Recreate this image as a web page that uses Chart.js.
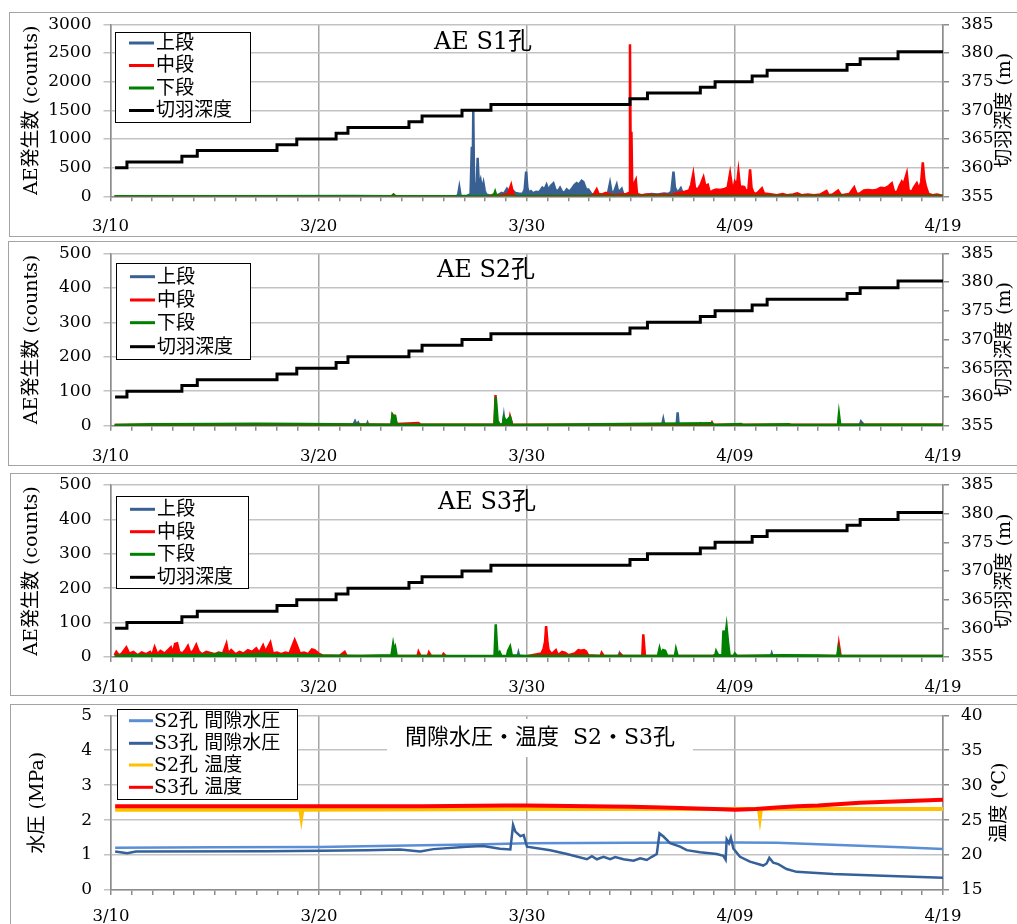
<!DOCTYPE html>
<html>
<head>
<meta charset="utf-8">
<script src="https://cdn.jsdelivr.net/npm/chart.js@4/dist/chart.umd.min.js"></script>
<style>
  html, body { margin: 0; padding: 0; background: #fff; overflow: hidden; }
  #page { position: relative; width: 1017px; height: 924px; }
  .frame { position: absolute; border: 1px solid #a3a3a3; box-sizing: border-box; background: #fff; }
  canvas { position: absolute; }
</style>
</head>
<body>
<div id="page"></div>
<script>
// ---- x axis: days since 3/10 ----
const tickLabels = ['3/10', '3/20', '3/30', '4/09', '4/19'];

// face depth (m), step values: [day, depth]
const faceDepth = [[0.22,360],[0.79,361],[3.43,362],[4.17,363],[8.0,364],[8.95,365],[10.84,366],[11.41,367],[14.34,368],[14.97,369],[16.89,370],[18.28,371],[24.96,372],[25.8,373],[28.34,374],[29.05,375],[30.83,376],[31.55,377],[35.39,378],[36.02,379],[37.84,380.2],[40.0,380.2]];

// AE counts, hole S1
const s1Upper = [[0.2,0],[3.0,3],[6.0,0],[11.7,4],[13.6,0],[16.6,0],[16.7,20],[16.76,150],[16.82,10],[17.1,5],[17.3,40],[17.36,865],[17.4,300],[17.43,1500],[17.47,200],[17.52,60],[17.6,250],[17.64,673],[17.7,180],[17.78,280],[17.85,120],[17.92,230],[17.98,100],[18.05,30],[18.3,5],[18.6,20],[18.8,60],[18.9,40],[19.05,130],[19.15,80],[19.3,110],[19.45,60],[19.6,50],[19.8,40],[19.9,120],[19.97,430],[20.03,150],[20.1,60],[20.2,90],[20.3,50],[20.45,80],[20.6,70],[20.75,150],[20.85,120],[20.95,200],[21.05,100],[21.15,180],[21.28,227],[21.38,110],[21.5,90],[21.6,150],[21.7,80],[21.8,60],[21.92,120],[22.05,80],[22.2,150],[22.3,200],[22.4,230],[22.5,200],[22.64,272],[22.72,250],[22.85,120],[22.96,120],[23.1,40],[23.3,20],[23.5,20],[23.7,30],[23.9,50],[24.0,227],[24.08,60],[24.2,80],[24.32,200],[24.4,60],[24.56,130],[24.65,20],[24.8,10],[25.0,5],[25.6,20],[26.0,40],[26.3,30],[26.6,50],[26.8,40],[26.95,80],[27.05,430],[27.12,150],[27.25,60],[27.4,140],[27.5,40],[27.6,10],[28.0,0],[40.0,0]];
const s1Mid = [[0.2,0],[13.5,0],[13.6,30],[13.7,0],[18.2,0],[18.4,30],[18.6,10],[19.1,40],[19.25,197],[19.35,40],[19.5,0],[23.0,10],[23.2,20],[23.36,122],[23.45,40],[23.6,30],[23.8,60],[24.0,30],[24.2,20],[24.5,30],[24.8,40],[24.93,60],[24.96,2650],[25.0,300],[25.03,1127],[25.07,150],[25.24,284],[25.3,40],[25.5,20],[25.8,30],[26.2,20],[26.6,30],[26.9,20],[27.3,60],[27.6,80],[27.8,100],[27.9,200],[28.0,389],[28.08,150],[28.2,110],[28.35,200],[28.49,330],[28.58,180],[28.7,200],[28.8,60],[28.95,100],[29.1,120],[29.3,110],[29.5,130],[29.65,150],[29.77,400],[29.85,200],[29.95,160],[30.0,255],[30.1,200],[30.17,430],[30.25,150],[30.35,170],[30.45,160],[30.55,80],[30.65,120],[30.73,470],[30.8,150],[30.9,60],[31.0,40],[31.15,80],[31.3,140],[31.4,50],[31.6,40],[31.8,30],[32.0,20],[32.3,40],[32.5,20],[32.8,30],[33.0,50],[33.2,20],[33.5,30],[33.8,20],[34.1,30],[34.4,93],[34.5,20],[34.7,30],[34.96,100],[35.1,20],[35.5,40],[35.73,157],[35.85,40],[36.0,50],[36.2,100],[36.4,110],[36.6,100],[36.8,110],[37.0,150],[37.2,140],[37.4,180],[37.54,227],[37.65,80],[37.8,70],[37.9,170],[38.02,255],[38.1,200],[38.26,400],[38.35,100],[38.5,80],[38.6,150],[38.74,227],[38.85,120],[38.95,250],[39.03,593],[39.1,300],[39.18,168],[39.3,40],[39.5,20],[39.7,30],[40.0,10]];
const s1Low = [[0.2,0],[13.55,0],[13.6,25],[13.65,0],[18.4,0],[18.48,80],[18.55,0],[35.0,0],[35.05,15],[35.1,0],[40.0,0]];

// AE counts, hole S2
const s2Upper = [[0.2,0],[11.65,0],[11.75,13],[11.82,3],[11.9,9],[11.97,0],[12.3,0],[12.35,8],[12.4,0],[18.85,0],[18.9,25],[18.95,0],[26.5,0],[26.56,18],[26.62,0],[27.2,0],[27.25,39],[27.3,0],[28.3,0],[28.35,5],[28.4,0],[36.0,0],[36.06,12],[36.15,6],[36.2,0],[40.0,0]];
const s2Mid = [[0.2,2],[3.0,3],[7.0,4],[13.5,3],[13.55,30],[13.6,25],[13.65,28],[13.75,5],[14.8,8],[14.9,3],[18.45,3],[18.5,89],[18.55,3],[19.15,5],[19.2,25],[19.3,3],[28.85,3],[28.9,9],[28.95,3],[40.0,3]];
const s2Low = [[0.2,2],[2.0,4],[5.0,5],[7.0,6],[9.3,5],[13.5,3],[13.55,32],[13.62,26],[13.68,27],[13.75,3],[18.45,3],[18.51,83],[18.56,45],[18.6,14],[18.7,3],[18.85,3],[18.9,25],[19.0,12],[19.2,25],[19.3,2],[28.9,7],[29.0,2],[30.3,5],[30.4,2],[32.6,4],[32.7,2],[34.95,2],[35.0,33],[35.06,3],[40.0,3]];

// AE counts, hole S3
const s3Upper = [[0.2,0],[19.55,0],[19.6,12],[19.65,0],[24.4,0],[24.45,9],[24.5,0],[31.72,0],[31.77,10],[31.82,0],[40.0,0]];
const s3Mid = [[0.2,5],[0.28,15],[0.4,5],[0.55,10],[0.76,28],[0.9,10],[1.1,15],[1.3,5],[1.5,13],[1.7,8],[1.9,15],[2.0,5],[2.12,28],[2.25,8],[2.4,18],[2.6,10],[2.9,28],[3.0,10],[3.1,38],[3.2,40],[3.3,15],[3.45,10],[3.6,20],[3.72,32],[3.85,10],[4.0,20],[4.12,35],[4.25,15],[4.4,8],[4.6,15],[4.8,12],[5.0,8],[5.2,13],[5.4,10],[5.57,38],[5.65,10],[5.8,20],[6.0,8],[6.2,15],[6.4,10],[6.6,20],[6.8,15],[7.0,25],[7.15,12],[7.33,34],[7.45,15],[7.68,42],[7.8,10],[8.0,13],[8.2,8],[8.4,13],[8.6,10],[8.85,49],[8.95,34],[9.1,10],[9.3,13],[9.5,8],[9.68,22],[9.8,20],[10.0,10],[10.2,4],[11.0,3],[11.25,15],[11.35,3],[13.0,3],[14.75,3],[14.8,15],[14.9,3],[15.25,3],[15.3,13],[15.4,3],[15.95,3],[16.0,9],[16.1,3],[20.0,2],[20.7,10],[20.8,22],[20.88,44],[20.93,90],[21.0,40],[21.05,20],[21.2,8],[21.4,20],[21.5,5],[21.7,15],[21.85,12],[22.0,5],[22.3,10],[22.48,20],[22.6,18],[22.75,20],[22.85,16],[22.95,5],[23.55,3],[23.6,12],[23.7,3],[24.45,3],[24.5,9],[24.6,3],[25.55,3],[25.6,66],[25.68,3],[28.95,3],[29.0,5],[29.1,3],[34.95,3],[35.0,35],[35.08,3],[40.0,3]];
const s3Low = [[0.2,3],[1.0,5],[2.0,4],[3.0,6],[4.0,5],[5.0,7],[5.2,10],[6.0,5],[7.3,9],[8.0,5],[9.0,6],[10.0,4],[12.0,3],[13.5,5],[13.58,37],[13.63,20],[13.68,28],[13.75,3],[16.0,3],[18.45,3],[18.51,95],[18.55,49],[18.6,5],[18.7,14],[18.78,3],[19.05,3],[19.1,18],[19.2,30],[19.28,5],[20.0,3],[26.3,3],[26.38,25],[26.45,8],[26.55,20],[26.65,18],[26.75,3],[27.12,3],[27.17,22],[27.25,3],[29.05,3],[29.1,17],[29.2,5],[29.4,5],[29.45,77],[29.52,50],[29.6,88],[29.68,37],[29.75,3],[29.95,3],[30.0,10],[30.1,3],[32.3,5],[34.0,4],[34.92,3],[34.97,25],[35.05,3],[40.0,3]];

// pore water pressure (MPa) and temperature (°C)
const s2Pressure = [[0.2,1.21],[5.0,1.22],[10.0,1.23],[15.0,1.28],[18.0,1.31],[20.0,1.34],[25.0,1.35],[30.0,1.36],[32.0,1.35],[35.0,1.29],[38.0,1.22],[40.0,1.17]];
const s3Pressure = [[0.2,1.10],[0.78,1.05],[1.2,1.10],[7.5,1.11],[10.07,1.12],[12.3,1.14],[13.9,1.16],[14.87,1.10],[15.5,1.17],[17.1,1.24],[17.9,1.26],[18.7,1.18],[19.2,1.16],[19.33,1.86],[19.44,1.67],[19.68,1.54],[19.84,1.57],[20.0,1.24],[21.12,1.14],[21.92,1.03],[22.88,0.88],[23.12,0.97],[23.36,0.88],[23.68,0.95],[24.0,0.88],[24.24,0.94],[24.64,0.88],[25.12,0.84],[25.44,0.91],[25.76,0.86],[26.0,0.95],[26.24,1.03],[26.37,1.62],[26.56,1.53],[26.88,1.34],[27.36,1.24],[27.68,1.14],[28.32,1.08],[29.12,1.03],[29.44,0.98],[29.55,0.87],[29.6,1.45],[29.71,1.34],[29.8,1.50],[29.92,1.19],[30.24,0.95],[30.72,0.81],[31.36,0.70],[31.52,0.76],[31.65,0.92],[31.84,0.78],[32.08,0.74],[32.48,0.60],[32.96,0.52],[34.72,0.46],[37.12,0.41],[40.0,0.35]];
const s2Temp = [[0.2,26.5],[9.1,26.5],[9.15,25.5],[9.2,26.5],[20.0,26.6],[31.15,26.6],[31.2,25.5],[31.25,26.6],[40.0,26.6]];
const s3Temp = [[0.2,27.0],[10.0,27.0],[15.0,27.0],[19.0,27.1],[20.0,27.1],[25.0,26.9],[26.5,26.8],[29.0,26.6],[30.0,26.5],[31.0,26.6],[32.0,26.8],[33.0,27.0],[34.0,27.1],[36.0,27.5],[38.0,27.7],[40.0,27.9]];

// ---- styling ----
const FONT = '"DejaVu Serif", "Noto Sans CJK JP", serif';
const C_UP = '#386092', C_MID = '#ff0000', C_LOW = '#008000';
const C_S2P = '#5a8fd6', C_S3P = '#36609a', C_S2T = '#ffc000', C_S3T = '#ff0000';
const GRID_H = '#c3c3c3', GRID_V = '#a6a6a6', AXIS = '#8c8c8c';

const pts = arr => arr.map(([x, y]) => ({ x, y }));

function xScale(h, pad) {
  return {
    type: 'linear', position: 'bottom', min: 0, max: 40,
    ticks: {
      stepSize: 1, maxTicksLimit: 100, autoSkip: false, maxRotation: 0, minRotation: 0,
      padding: pad, color: '#000', font: { family: FONT, size: 16.5 },
      callback: v => (v % 10 === 0 ? tickLabels[v / 10] : '')
    },
    grid: {
      color: c => (c.tick && c.tick.value % 10 === 0) ? GRID_V : 'rgba(0,0,0,0)',
      tickColor: AXIS, tickLength: 5, lineWidth: 1.5
    },
    border: { color: AXIS, width: 1.5 },
    afterFit: s => { s.height = h; s.paddingLeft = 0; s.paddingRight = 0; }
  };
}
function yLeft(min, max, step, w) {
  return {
    type: 'linear', position: 'left', min, max,
    ticks: { stepSize: step, padding: 12, color: '#000', font: { family: FONT, size: 17 }, callback: v => String(v) },
    grid: { color: GRID_H, lineWidth: 1.5, tickLength: 7 },
    border: { color: AXIS, width: 1.5 },
    afterFit: s => { s.width = w; s.paddingTop = 0; s.paddingBottom = 0; }
  };
}
function yRight(min, max, step, w) {
  return {
    type: 'linear', position: 'right', min, max,
    ticks: { stepSize: step, padding: 12, color: '#000', font: { family: FONT, size: 17 }, callback: v => String(v) },
    grid: { drawOnChartArea: false, color: AXIS, lineWidth: 1.5, tickLength: 6 },
    border: { color: AXIS, width: 1.5 },
    afterFit: s => { s.width = w; s.paddingTop = 0; s.paddingBottom = 0; }
  };
}

// titles, axis titles and legend box drawn inside the plot
function makeDeco(p) {
  return {
    id: 'deco',
    afterDraw(chart) {
      const ctx = chart.ctx, a = chart.chartArea;
      const ox = p.left, oy = p.top;
      ctx.save();
      ctx.fillStyle = '#000';
      // vertical axis titles
      const midY = (a.top + a.bottom) / 2;
      [[p.leftTitle, p.leftTitleX], [p.rightTitle, p.rightTitleX]].forEach(([t, x]) => {
        ctx.save();
        ctx.translate(x - ox, midY);
        ctx.rotate(-Math.PI / 2);
        ctx.font = '19px ' + FONT;
        ctx.textAlign = 'center';
        ctx.textBaseline = 'middle';
        ctx.fillText(t, 0, 0);
        ctx.restore();
      });
      // chart title
      if (p.titleBox) {
        const b = p.titleBox;
        ctx.fillStyle = '#fff';
        ctx.fillRect(b[0] - ox, b[1] - oy, b[2], b[3]);
      }
      ctx.fillStyle = '#000';
      ctx.font = p.titleSize + 'px ' + FONT;
      ctx.textAlign = 'center';
      ctx.textBaseline = 'middle';
      ctx.fillText(p.title, p.titleX - ox, p.titleY - oy);
      // legend
      const L = p.legend;
      const bx = L.x - ox, by = L.y - oy;
      ctx.fillStyle = '#fff';
      ctx.fillRect(bx, by, L.w, L.h);
      ctx.strokeStyle = '#000';
      ctx.lineWidth = 1;
      ctx.strokeRect(bx + 0.5, by + 0.5, L.w, L.h);
      ctx.font = '19px ' + FONT;
      ctx.textAlign = 'left';
      chart.data.datasets.forEach((ds, i) => {
        const cy = L.rows[i] - oy;
        ctx.strokeStyle = ds.borderColor;
        ctx.lineWidth = 3;
        ctx.beginPath();
        ctx.moveTo(bx + L.l0, cy);
        ctx.lineTo(bx + L.l1, cy);
        ctx.stroke();
        ctx.fillStyle = '#000';
        ctx.fillText(ds.label, bx + L.tx, cy + 1);
      });
      ctx.restore();
    }
  };
}

function aeDatasets(up, mid, low) {
  const base = { pointRadius: 0, tension: 0, borderWidth: 2.5, fill: 'origin' };
  return [
    { ...base, label: '上段', data: pts(up), borderColor: C_UP, backgroundColor: C_UP, yAxisID: 'y', order: 3 },
    { ...base, label: '中段', data: pts(mid), borderColor: C_MID, backgroundColor: C_MID, yAxisID: 'y', order: 2 },
    { ...base, label: '下段', data: pts(low), borderColor: C_LOW, backgroundColor: C_LOW, yAxisID: 'y', order: 1 },
    { ...base, label: '切羽深度', data: pts(faceDepth), borderColor: '#000', yAxisID: 'y2', order: 0, stepped: 'before', borderWidth: 3, fill: false }
  ];
}
function pwDatasets() {
  const base = { pointRadius: 0, fill: false, tension: 0, borderWidth: 2.5 };
  return [
    { ...base, label: 'S2孔 間隙水圧', data: pts(s2Pressure), borderColor: C_S2P, yAxisID: 'y', order: 3 },
    { ...base, label: 'S3孔 間隙水圧', data: pts(s3Pressure), borderColor: C_S3P, yAxisID: 'y', order: 2 },
    { ...base, label: 'S2孔 温度', data: pts(s2Temp), borderColor: C_S2T, yAxisID: 'y2', order: 1, borderWidth: 4 },
    { ...base, label: 'S3孔 温度', data: pts(s3Temp), borderColor: C_S3T, yAxisID: 'y2', order: 0, borderWidth: 4 }
  ];
}

const panels = [
  { frame: [9, 12, 1012, 225], left: 9, top: 12, width: 1011, height: 224, padTop: 12.3, xH: 39.7, xPad: 16, yW: 101.5, y2W: 77,
    yl: [0, 3000, 500], yr: [355, 385, 5], datasets: aeDatasets(s1Upper, s1Mid, s1Low),
    title: 'AE S1孔', titleX: 483, titleY: 43, titleSize: 24,
    leftTitle: 'AE発生数 (counts)', leftTitleX: 32, rightTitle: '切羽深度 (m)', rightTitleX: 1005,
    legend: { x: 115, y: 32, w: 135, h: 90, rows: [43, 65.5, 88, 110.5], l0: 14, l1: 39, tx: 41 } },
  { frame: [8, 241, 1013, 225], left: 9, top: 242, width: 1011, height: 223, padTop: 11.3, xH: 39.3, xPad: 16, yW: 101.5, y2W: 77,
    yl: [0, 500, 100], yr: [355, 385, 5], datasets: aeDatasets(s2Upper, s2Mid, s2Low),
    title: 'AE S2孔', titleX: 486, titleY: 271, titleSize: 24,
    leftTitle: 'AE発生数 (counts)', leftTitleX: 32, rightTitle: '切羽深度 (m)', rightTitleX: 1005,
    legend: { x: 116, y: 263, w: 134, h: 96, rows: [276.7, 300, 322.7, 346.7], l0: 14, l1: 39, tx: 41 } },
  { frame: [10, 473, 1011, 223], left: 9, top: 473, width: 1011, height: 222, padTop: 12, xH: 38, xPad: 16, yW: 101.5, y2W: 77,
    yl: [0, 500, 100], yr: [355, 385, 5], datasets: aeDatasets(s3Upper, s3Mid, s3Low),
    title: 'AE S3孔', titleX: 487, titleY: 503, titleSize: 24,
    leftTitle: 'AE発生数 (counts)', leftTitleX: 32, rightTitle: '切羽深度 (m)', rightTitleX: 1005,
    legend: { x: 116, y: 496, w: 132, h: 92, rows: [509.3, 531.7, 554.3, 577.3], l0: 14, l1: 39, tx: 41 } },
  { frame: [10, 704, 1011, 240], left: 9, top: 704, width: 1011, height: 231, padTop: 11.3, xH: 45, xPad: 12, yW: 102, y2W: 77,
    yl: [0, 5, 1], yr: [15, 40, 5], datasets: pwDatasets(),
    title: '間隙水圧・温度  S2・S3孔', titleX: 540, titleY: 738, titleSize: 22, titleBox: [387, 719, 306, 38],
    leftTitle: '水圧 (MPa)', leftTitleX: 38, rightTitle: '温度 (℃)', rightTitleX: 1000,
    legend: { x: 117, y: 709, w: 180, h: 90, rows: [720.7, 743.3, 765, 787.3], l0: 12, l1: 36, tx: 37 } }
];

const page = document.getElementById('page');
panels.forEach(p => {
  const f = document.createElement('div');
  f.className = 'frame';
  Object.assign(f.style, { left: p.frame[0] + 'px', top: p.frame[1] + 'px', width: p.frame[2] + 'px', height: p.frame[3] + 'px' });
  page.appendChild(f);
  const cv = document.createElement('canvas');
  cv.width = p.width; cv.height = p.height;
  Object.assign(cv.style, { left: p.left + 'px', top: p.top + 'px', width: p.width + 'px', height: p.height + 'px' });
  page.appendChild(cv);
  new Chart(cv.getContext('2d'), {
    type: 'line',
    data: { datasets: p.datasets },
    options: {
      responsive: false, animation: false, devicePixelRatio: 1,
      layout: { padding: { top: p.padTop, left: 0, right: 0, bottom: 0 }, autoPadding: false },
      plugins: { legend: { display: false }, tooltip: { enabled: false }, title: { display: false } },
      scales: {
        x: xScale(p.xH, p.xPad),
        y: yLeft(p.yl[0], p.yl[1], p.yl[2], p.yW),
        y2: yRight(p.yr[0], p.yr[1], p.yr[2], p.y2W)
      }
    },
    plugins: [makeDeco(p)]
  });
});
</script>
</body>
</html>
